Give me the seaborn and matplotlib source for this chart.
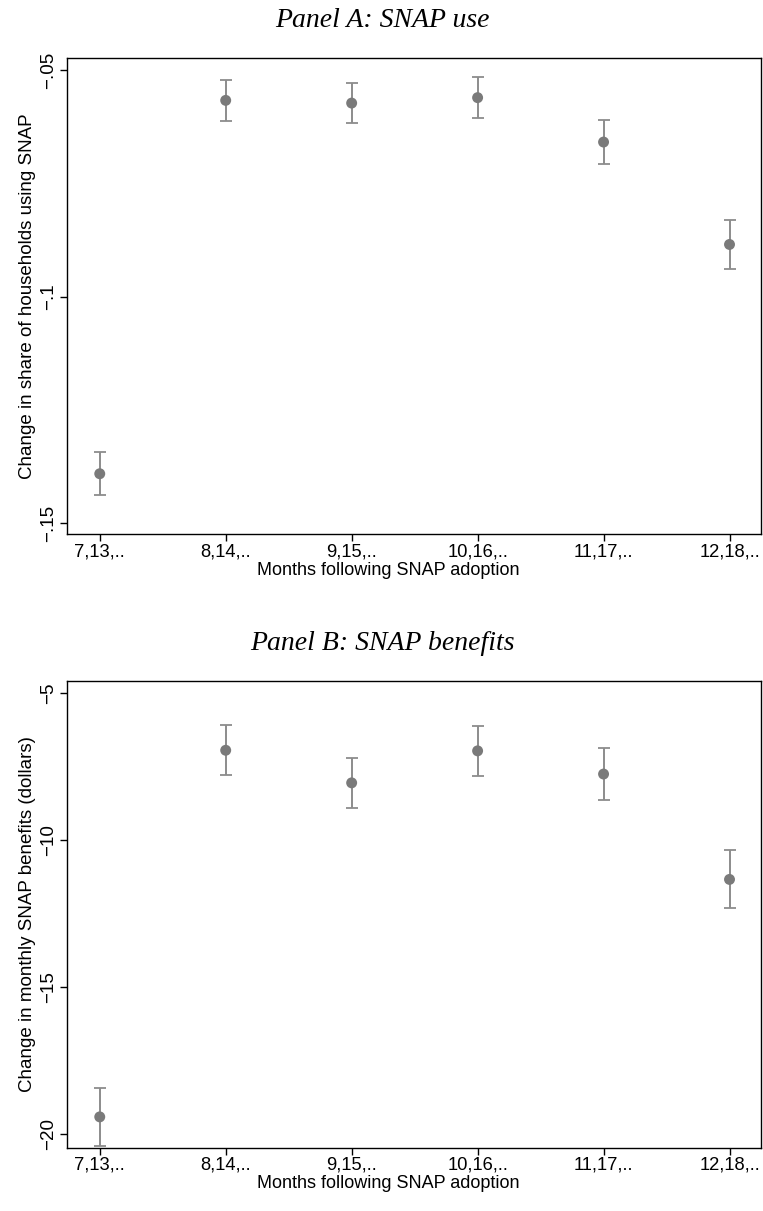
import matplotlib
matplotlib.use("Agg")
import matplotlib.pyplot as plt
import seaborn as sns
import numpy as np
import pandas as pd

categories = ["7,13,..", "8,14,..", "9,15,..", "10,16,..", "11,17,..", "12,18,.."]
snap_use = [-0.1391, -0.0567, -0.0573, -0.0561, -0.0659, -0.0885]
snap_use_err = [0.0047, 0.0046, 0.0045, 0.0045, 0.0048, 0.0054]
snap_ben = [-19.43, -6.94, -8.05, -6.96, -7.75, -11.34]
snap_ben_err = [1.0, 0.85, 0.85, 0.85, 0.9, 0.99]
yticks_a = [-0.05, -0.10, -0.15]
yticklabels_a = ["\u2212.05", "\u2212.1", "\u2212.15"]
yticks_b = [-5, -10, -15, -20]
yticklabels_b = ["\u22125", "\u221210", "\u221215", "\u221220"]

sns.set_theme(style="ticks")
plt.rcParams["font.family"] = ["Liberation Sans", "DejaVu Sans"]
plt.rcParams["text.color"] = "black"
plt.rcParams["axes.labelcolor"] = "black"
plt.rcParams["xtick.color"] = "black"
plt.rcParams["ytick.color"] = "black"

W, H = 763, 1211
fig = plt.figure(figsize=(W / 100, H / 100), dpi=100)

def panel(rect, vals, errs, ylim, yt, ytl, ylabel, title, tpad, hpx):
    ax = fig.add_axes(rect)
    df = pd.DataFrame({"x": np.arange(len(categories)), "y": vals, "e": errs})
    ax.errorbar(df["x"], df["y"], yerr=df["e"], fmt="none", ecolor="#8c8c8c",
                elinewidth=1.4, capsize=4.5, capthick=1.3, zorder=2)
    sns.scatterplot(data=df, x="x", y="y", ax=ax, color="#7a7a7a", s=62,
                    edgecolor="none", zorder=3, legend=False)
    ax.set_xlim(-0.26, 5.25)
    ax.set_ylim(*ylim)
    ax.set_xticks(df["x"])
    ax.set_xticklabels(categories, fontsize=13.2, color="black")
    ax.set_yticks(yt)
    ax.set_yticklabels(ytl, fontsize=13.5, rotation=90, va="center", color="black")
    ax.set_xlabel("Months following SNAP adoption", fontsize=13, color="black")
    ax.xaxis.set_label_coords(0.4625, -27.5 / hpx, transform=ax.transAxes)
    ax.xaxis.label.set_va("top")
    ax.set_ylabel(ylabel, fontsize=13.5, labelpad=3, color="black")
    for s in ax.spines.values():
        s.set_visible(True)
        s.set_linewidth(1.0)
        s.set_color("black")
    ax.tick_params(axis="both", direction="out", length=5, width=1.0, colors="black", pad=2)
    ax.tick_params(axis="x", pad=1.5)
    ax.set_title(title, fontsize=20, family="Liberation Serif", style="italic",
                 pad=tpad, x=0.454, color="black")
    return ax

panel([67 / W, 1 - 534 / H, (761 - 67) / W, (534 - 58) / H], snap_use, snap_use_err,
      (-0.1524, -0.04735), yticks_a, yticklabels_a,
      "Change in share of households using SNAP", "Panel A: SNAP use", 22, 534 - 58)
panel([67 / W, 1 - 1147.7 / H, (761 - 67) / W, (1147.7 - 681) / H], snap_ben, snap_ben_err,
      (-20.48, -4.58), yticks_b, yticklabels_b,
      "Change in monthly SNAP benefits (dollars)", "Panel B: SNAP benefits", 22, 1147.7 - 681)

fig.savefig("out.png", dpi=100, facecolor="white")
